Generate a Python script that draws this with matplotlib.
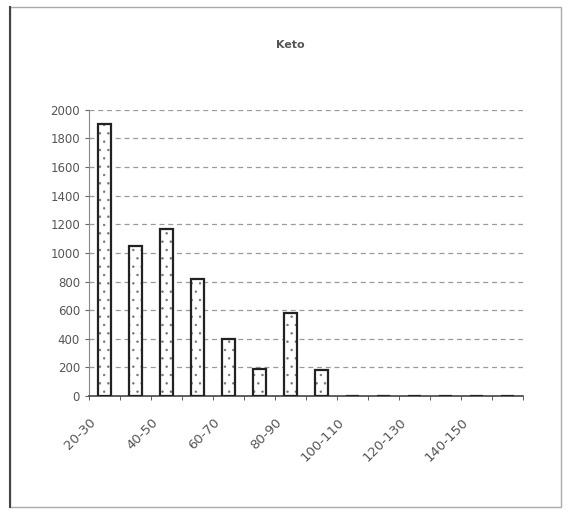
import matplotlib
matplotlib.use("Agg")
import matplotlib.pyplot as plt
import matplotlib.transforms as mtransforms
import numpy as np

# Age-band histogram data
categories = ["20-30", "30-40", "40-50", "50-60", "60-70", "70-80", "80-90",
              "90-100", "100-110", "110-120", "120-130", "130-140", "140-150", "150-160"]
counts = [1900, 1050, 1170, 820, 400, 190, 580, 180, 0, 0, 0, 0, 0, 0]
y_ticks = [0, 200, 400, 600, 800, 1000, 1200, 1400, 1600, 1800, 2000]
title = "Keto"

fig = plt.figure(figsize=(5.71, 5.13), dpi=100)
ax = fig.add_axes([0.156, 0.228, 0.760, 0.558])

x = np.arange(len(categories))
ax.bar(x, counts, width=0.42, color="white", edgecolor="#222222",
       linewidth=1.6, hatch="..", zorder=3)
for b in ax.patches:
    b.set_hatch_linewidth(0.5)
    b._hatch_color = (0.45, 0.45, 0.45, 1.0)

ax.set_xlim(-0.5, len(categories) - 0.5)
ax.set_ylim(0, 2000)
ax.set_yticks(y_ticks)
ax.set_yticklabels([str(v) for v in y_ticks], fontsize=8.5, color="#555555")

# Labels on every other category, ticks between categories
ax.set_xticks(x[::2])
ax.set_xticklabels(categories[::2], rotation=45, ha="right", rotation_mode="anchor",
                   fontsize=9.5, color="#555555")
ax.tick_params(axis="x", length=0, pad=14)
shift = mtransforms.ScaledTranslation(-11 / 72, 0, fig.dpi_scale_trans)
for lbl in ax.get_xticklabels():
    lbl.set_transform(lbl.get_transform() + shift)
ax.set_xticks(np.arange(len(categories) + 1) - 0.5, minor=True)
ax.tick_params(axis="x", which="minor", length=3, direction="out", color="#444444")
ax.tick_params(axis="y", length=3, color="#666666")

ax.grid(axis="y", linestyle=(0, (4, 3)), color="#9a9a9a", linewidth=0.9, zorder=0)
for s in ["top", "right"]:
    ax.spines[s].set_visible(False)
ax.spines["left"].set_color("#888888")
ax.spines["bottom"].set_color("#444444")
ax.spines["bottom"].set_linewidth(1.2)

fig.text(0.508, 0.912, title, ha="center", va="center", fontsize=8,
         color="#555555", fontweight="bold")

# Outer chart frame
frame = plt.Rectangle((0.018, 0.012), 0.965, 0.975, transform=fig.transFigure,
                      fill=False, edgecolor="#aaaaaa", linewidth=1.0)
fig.patches.append(frame)
fig.add_artist(plt.Line2D([0.018, 0.018], [0.012, 0.987], transform=fig.transFigure,
                          color="#444444", linewidth=1.5))

fig.savefig("out.png", dpi=100)
